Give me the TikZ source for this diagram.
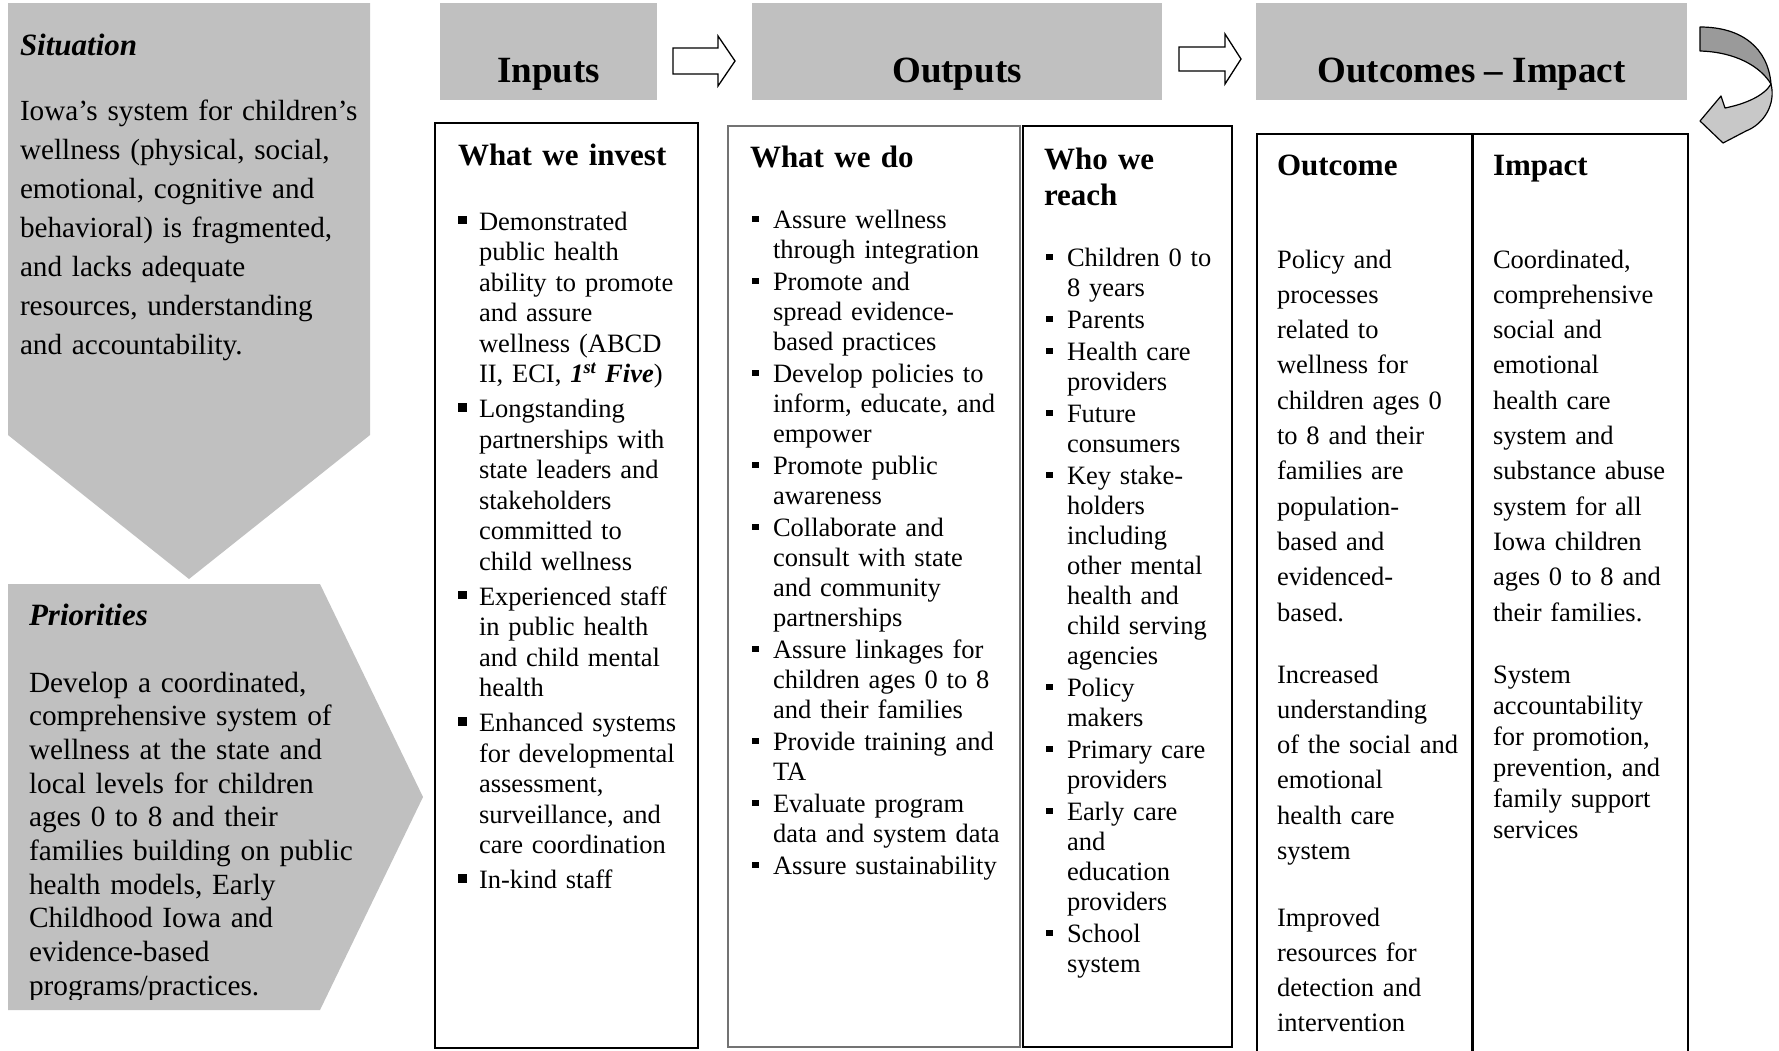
\documentclass[tikz,border=0pt]{standalone}
\usepackage{fontspec}
\setmainfont{Liberation Serif}
\usetikzlibrary{calc}
\definecolor{shapegray}{HTML}{C0C0C0}
\definecolor{bandgray}{HTML}{9A9A9A}
\definecolor{headgray}{HTML}{C8C8C8}
\newcommand{\bulA}{\leavevmode\llap{\rule[5.75pt]{8.5pt}{8.5pt}\hspace{12.5pt}}}
\newcommand{\bulB}{\leavevmode\llap{\rule[5.75pt]{6.5pt}{6.5pt}\hspace{14.5pt}}}
\begin{document}
\begin{tikzpicture}[x=1pt, y=-1pt,
  every node/.style={inner sep=0pt, outer sep=0pt},
  graybox/.style={fill=shapegray, draw=none, anchor=north west},
  hdr/.style={font=\fontsize{37}{42}\selectfont\bfseries, anchor=base},
  colbox/.style={draw=black, line width=2pt, anchor=north west},
  colhead/.style={font=\fontsize{31}{36}\selectfont\bfseries, anchor=base west, align=left, text width=220},
  sidetitle/.style={font=\fontsize{31}{36}\selectfont\bfseries\itshape, anchor=base west},
  bodyA/.style={font=\fontsize{26.5}{30.5}\selectfont, anchor=base west, align=left},
  bodyB/.style={font=\fontsize{26.5}{30}\selectfont, anchor=base west, align=left},
  bodyO/.style={font=\fontsize{26.5}{35.3}\selectfont, anchor=base west, align=left, text width=210},
  blockarrow/.style={draw=black, line width=1.3pt, fill=white, line join=miter},
  curvearrow/.style={draw=black, line width=1.2pt, line join=round}
]
\useasboundingbox (0,0) rectangle (1779,1050);
\fill[white] (0,0) rectangle (1779,1050);

% ---------- Situation ----------
\fill[shapegray] (8,3) -- (370,3) -- (370,435) -- (189,579) -- (8,435) -- cycle;
\node[sidetitle] (sittitle) at (20,55) {Situation};
\node[font=\fontsize{29.2}{39}\selectfont, anchor=base west, align=left, text width=400] (sitbody) at (20,120)
 {Iowa’s system for children’s\newline
  wellness (physical, social,\newline
  emotional, cognitive and\newline
  behavioral) is fragmented,\newline
  and lacks adequate\newline
  resources, understanding\newline
  and accountability.};

% ---------- Priorities ----------
\fill[shapegray] (8,584) -- (320,584) -- (423,797) -- (320,1010) -- (8,1010) -- cycle;
\node[sidetitle] (priotitle) at (29,625) {Priorities};
\begin{scope}
\clip (0,560) rectangle (440,999);
\node[font=\fontsize{29.3}{33.7}\selectfont, anchor=base west, align=left, text width=400] (priobody) at (29,692)
 {Develop a coordinated,\newline
  comprehensive system of\newline
  wellness at the state and\newline
  local levels for children\newline
  ages 0 to 8 and their\newline
  families building on public\newline
  health models, Early\newline
  Childhood Iowa and\newline
  evidence-based\newline
  programs/practices.};
\end{scope}

% ---------- Header boxes ----------
\node[graybox, minimum width=217, minimum height=97] (inputs) at (440,3) {};
\node[graybox, minimum width=410, minimum height=97] (outputs) at (752,3) {};
\node[graybox, minimum width=431, minimum height=97] (outcomes) at (1256,3) {};
\node[hdr] (inputsT) at (548.5,82) {Inputs};
\node[hdr] (outputsT) at (957,82) {Outputs};
\node[hdr] (outcomesT) at (1471.5,82) {Outcomes -- Impact};

% block arrows between header boxes
\draw[blockarrow] (673,48) -- (718,48) -- (718,36) -- (735,61) -- (718,86) -- (718,74) -- (673,74) -- cycle;
\draw[blockarrow] (1179,47) -- (1225,47) -- (1225,34) -- (1241,59) -- (1225,84) -- (1225,71) -- (1179,71) -- cycle;

% curved return arrow
\draw[curvearrow, fill=bandgray] (1700,27) .. controls (1742,27) and (1768,48) .. (1771,84)
   .. controls (1760,66) and (1735,52) .. (1700,51) -- cycle;
\draw[curvearrow, fill=headgray] (1771,84) .. controls (1776,104) and (1764,124) .. (1746,131)
   -- (1723,143) -- (1700,121) -- (1721,96) -- (1725,108)
   .. controls (1745,104) and (1764,96) .. (1771,84) -- cycle;

% ---------- Column boxes ----------
\node[colbox, minimum width=263, minimum height=925] (invest) at (435,123) {};
\node[draw=black!55, line width=1.6pt, anchor=north west, minimum width=292, minimum height=921] (wedo) at (728,126) {};
\node[colbox, line width=2.3pt, minimum width=209, minimum height=921] (reach) at (1023,126) {};
\node[colbox, line width=2.3pt, minimum width=431, minimum height=930] (outbox) at (1257,134) {};
\draw[line width=2.2pt] (outbox.north) -- (outbox.south);

% ---------- Column headings ----------
\node[colhead] (investH) at (458,165) {What we invest};
\node[colhead] (wedoH) at (750,167) {What we do};
\node[colhead] (reachH) at (1044,169) {Who we\newline reach};
\node[colhead] (outH) at (1277,175) {Outcome};
\node[colhead] (impH) at (1493,175) {Impact};

% ---------- What we invest ----------
\node[bodyA, text width=260] (investT) at (479,230) {%
\setlength{\parskip}{4.5pt}%
\bulA Demonstrated\newline public health\newline ability to promote\newline and assure\newline wellness (ABCD\newline II, ECI, \textbf{\textit{1\textsuperscript{st} Five}})\par
\bulA Longstanding\newline partnerships with\newline state leaders and\newline stakeholders\newline committed to\newline child wellness\par
\bulA Experienced staff\newline in public health\newline and child mental\newline health\par
\bulA Enhanced systems\newline for developmental\newline assessment,\newline surveillance, and\newline care coordination\par
\bulA In-kind staff};

% ---------- What we do ----------
\node[bodyB, text width=300] (wedoT) at (773,228) {%
\setlength{\parskip}{2pt}%
\bulB Assure wellness\newline through integration\par
\bulB Promote and\newline spread evidence-\newline based practices\par
\bulB Develop policies to\newline inform, educate, and\newline empower\par
\bulB Promote public\newline awareness\par
\bulB Collaborate and\newline consult with state\newline and community\newline partnerships\par
\bulB Assure linkages for\newline children ages 0 to 8\newline and their families\par
\bulB Provide training and\newline TA\par
\bulB Evaluate program\newline data and system data\par
\bulB Assure sustainability};

% ---------- Who we reach ----------
\node[bodyB, text width=220] (reachT) at (1067,266) {%
\setlength{\parskip}{2pt}%
\bulB Children 0 to\newline 8 years\par
\bulB Parents\par
\bulB Health care\newline providers\par
\bulB Future\newline consumers\par
\bulB Key stake-\newline holders\newline including\newline other mental\newline health and\newline child serving\newline agencies\par
\bulB Policy\newline makers\par
\bulB Primary care\newline providers\par
\bulB Early care\newline and\newline education\newline providers\par
\bulB School\newline system};

% ---------- Outcome ----------
\node[bodyO] (out1) at (1277,268) {Policy and\newline processes\newline related to\newline wellness for\newline children ages 0\newline to 8 and their\newline families are\newline population-\newline based and\newline evidenced-\newline based.};
\node[bodyO] (out2) at (1277,683) {Increased\newline understanding\newline of the social and\newline emotional\newline health care\newline system};
\node[bodyO] (out3) at (1277,926) {Improved\newline resources for\newline detection and\newline intervention};

% ---------- Impact ----------
\node[bodyO] (imp1) at (1493,268) {Coordinated,\newline comprehensive\newline social and\newline emotional\newline health care\newline system and\newline substance abuse\newline system for all\newline Iowa children\newline ages 0 to 8 and\newline their families.};
\node[bodyO, font=\fontsize{26.5}{31}\selectfont] (imp2) at (1493,683) {System\newline accountability\newline for promotion,\newline prevention, and\newline family support\newline services};
\end{tikzpicture}
\end{document}
